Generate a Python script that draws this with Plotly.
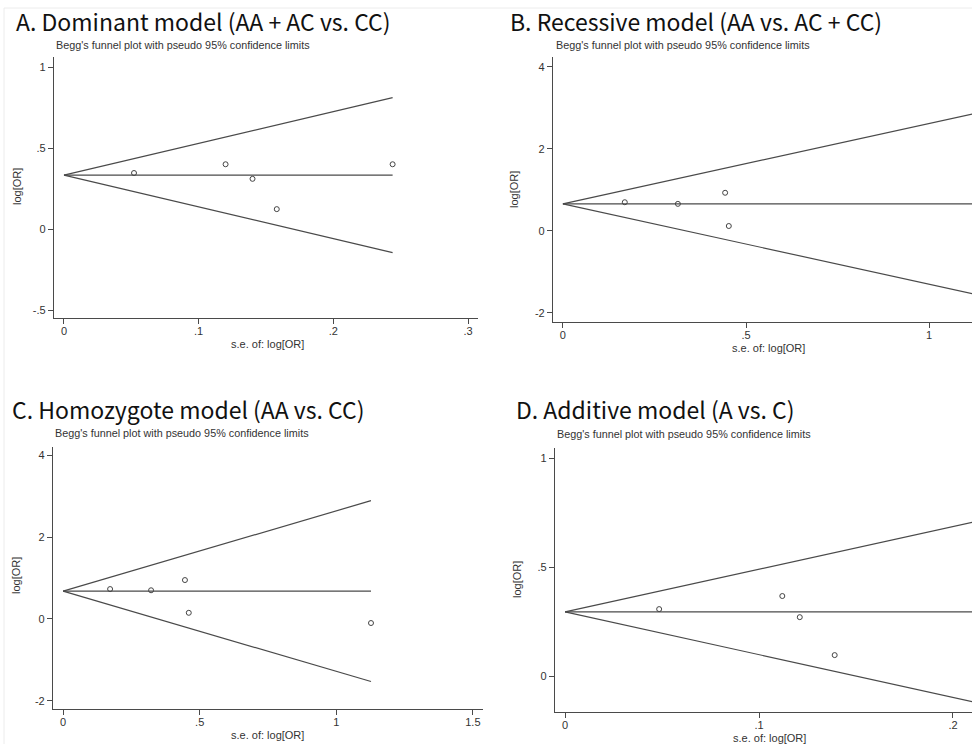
import plotly.graph_objects as go

W, H = 972, 744

# ---- study-level data (standard error, log odds ratio) and pooled estimates ----
a_se = [0.052, 0.120, 0.140, 0.158, 0.244]
a_lor = [0.346, 0.400, 0.310, 0.123, 0.400]
a_pooled = 0.333

b_se = [0.169, 0.314, 0.443, 0.453, 1.127]
b_lor = [0.700, 0.660, 0.930, 0.120, -0.195]
b_pooled = 0.660

c_se = [0.172, 0.322, 0.446, 0.460, 1.127]
c_lor = [0.730, 0.700, 0.950, 0.150, -0.100]
c_pooled = 0.680

d_se = [0.0485, 0.112, 0.121, 0.139]
d_lor = [0.307, 0.367, 0.270, 0.096]
d_pooled = 0.294
d_se_extent = 0.22  # funnel limits run to the largest s.e. in the meta-analysis

titles = [
    "A. Dominant model (AA + AC vs. CC)",
    "B. Recessive model (AA vs. AC + CC)",
    "C. Homozygote model (AA vs. CC)",
    "D. Additive model (A vs. C)",
]
subtitle = "Begg's funnel plot with pseudo 95% confidence limits"
x_title = "s.e. of: log[OR]"
y_title = "log[OR]"

a_xticks = [0, 0.1, 0.2, 0.3]; a_xtext = ["0", ".1", ".2", ".3"]
a_yticks = [-0.5, 0, 0.5, 1]; a_ytext = ["-.5", "0", ".5", "1"]
b_xticks = [0, 0.5, 1]; b_xtext = ["0", ".5", "1"]
b_yticks = [-2, 0, 2, 4]; b_ytext = ["-2", "0", "2", "4"]
c_xticks = [0, 0.5, 1, 1.5]; c_xtext = ["0", ".5", "1", "1.5"]
c_yticks = [-2, 0, 2, 4]; c_ytext = ["-2", "0", "2", "4"]
d_xticks = [0, 0.1, 0.2]; d_xtext = ["0", ".1", ".2"]
d_yticks = [0, 0.5, 1]; d_ytext = ["0", ".5", "1"]

Z = 1.96
LINE = "#4a4a4a"
TXT = "#333333"

# panel layout: plot box in pixels (left, top, right, bottom), axis ranges, label positions
panels = [
    dict(se=a_se, lor=a_lor, pooled=a_pooled, extent=max(a_se),
         box=(54, 57, 478, 318), xr=[-0.0074, 0.3074], yr=[-0.549, 1.062],
         xt=(a_xticks, a_xtext), yt=(a_yticks, a_ytext),
         title=(14, 21), sub=(54, 45), ylab=(17, 187), xlab=(267, 344)),
    dict(se=b_se, lor=b_lor, pooled=b_pooled, extent=max(b_se),
         box=(553, 57, 972, 322), xr=[-0.027, 1.117], yr=[-2.22, 4.24],
         xt=(b_xticks, b_xtext), yt=(b_yticks, b_ytext),
         title=(508, 21), sub=(554, 45), ylab=(514, 190), xlab=(768, 348)),
    dict(se=c_se, lor=c_lor, pooled=c_pooled, extent=max(c_se),
         box=(53, 447, 483, 709), xr=[-0.037, 1.537], yr=[-2.2, 4.2],
         xt=(c_xticks, c_xtext), yt=(c_yticks, c_ytext),
         title=(10, 409), sub=(53, 433), ylab=(16, 576), xlab=(267, 735)),
    dict(se=d_se, lor=d_lor, pooled=d_pooled, extent=d_se_extent,
         box=(555, 448, 972, 712), xr=[-0.0052, 0.2098], yr=[-0.165, 1.046],
         xt=(d_xticks, d_xtext), yt=(d_yticks, d_ytext),
         title=(514, 409), sub=(555, 434), ylab=(517, 580), xlab=(769, 738)),
]

fig = go.Figure()
annotations = []
layout_axes = {}

for i, p in enumerate(panels, start=1):
    xa = "x" if i == 1 else f"x{i}"
    ya = "y" if i == 1 else f"y{i}"
    ext = p["extent"]
    pooled = p["pooled"]

    # pseudo 95% confidence limits and pooled estimate line
    fig.add_trace(go.Scatter(x=[0, ext], y=[pooled, pooled + Z * ext], mode="lines",
                             line=dict(color=LINE, width=1.2), xaxis=xa, yaxis=ya,
                             showlegend=False, hoverinfo="skip"))
    fig.add_trace(go.Scatter(x=[0, ext], y=[pooled, pooled - Z * ext], mode="lines",
                             line=dict(color=LINE, width=1.2), xaxis=xa, yaxis=ya,
                             showlegend=False, hoverinfo="skip"))
    fig.add_trace(go.Scatter(x=[0, ext], y=[pooled, pooled], mode="lines",
                             line=dict(color=LINE, width=1.2), xaxis=xa, yaxis=ya,
                             showlegend=False, hoverinfo="skip"))
    # individual studies
    fig.add_trace(go.Scatter(x=p["se"], y=p["lor"], mode="markers",
                             marker=dict(symbol="circle-open", size=5, color="#444444",
                                         line=dict(width=1, color="#444444")),
                             xaxis=xa, yaxis=ya, showlegend=False))

    l, t, r, b = p["box"]
    axis_common = dict(showline=True, linecolor=LINE, linewidth=1.2, ticks="outside",
                       ticklen=5, tickcolor=LINE, tickwidth=1.2, showgrid=False,
                       zeroline=False, mirror=False,
                       tickfont=dict(family="Liberation Sans, Arial", size=11, color=TXT))
    xkey = "xaxis" if i == 1 else f"xaxis{i}"
    ykey = "yaxis" if i == 1 else f"yaxis{i}"
    layout_axes[xkey] = dict(domain=[l / W, r / W], range=p["xr"], anchor=ya,
                             tickvals=p["xt"][0], ticktext=p["xt"][1],
                             ticklabelstandoff=-2, **axis_common)
    layout_axes[ykey] = dict(domain=[1 - b / H, 1 - t / H], range=p["yr"], anchor=xa,
                             tickvals=p["yt"][0], ticktext=p["yt"][1], tickangle=0,
                             **axis_common)

    tx, ty = p["title"]
    annotations.append(dict(text=titles[i - 1], x=tx / W, y=1 - ty / H, xref="paper", yref="paper",
                            xanchor="left", yanchor="middle", showarrow=False,
                            font=dict(family="Noto Sans CJK SC, Noto Sans", size=23, color="#111111")))
    sx, sy = p["sub"]
    annotations.append(dict(text=subtitle, x=sx / W, y=1 - sy / H, xref="paper", yref="paper",
                            xanchor="left", yanchor="middle", showarrow=False,
                            font=dict(family="Liberation Sans, Arial", size=10.8, color=TXT)))
    yx, yy = p["ylab"]
    annotations.append(dict(text=y_title, x=yx / W, y=1 - yy / H, xref="paper", yref="paper",
                            xanchor="center", yanchor="middle", textangle=-90, showarrow=False,
                            font=dict(family="Liberation Sans, Arial", size=11, color=TXT)))
    xx, xy = p["xlab"]
    annotations.append(dict(text=x_title, x=xx / W, y=1 - xy / H, xref="paper", yref="paper",
                            xanchor="center", yanchor="middle", showarrow=False,
                            font=dict(family="Liberation Sans, Arial", size=11, color=TXT)))

# faint frame edges around the composite
shapes = [
    dict(type="line", xref="paper", yref="paper", x0=4 / W, x1=4 / W, y0=0, y1=1 - 8 / H,
         line=dict(color="#ececec", width=1)),
    dict(type="line", xref="paper", yref="paper", x0=4 / W, x1=1, y0=1 - 8 / H, y1=1 - 8 / H,
         line=dict(color="#ececec", width=1)),
]

fig.update_layout(width=W, height=H, margin=dict(l=0, r=0, t=0, b=0),
                  paper_bgcolor="white", plot_bgcolor="white",
                  annotations=annotations, shapes=shapes, **layout_axes)

fig.write_html("out.html")
